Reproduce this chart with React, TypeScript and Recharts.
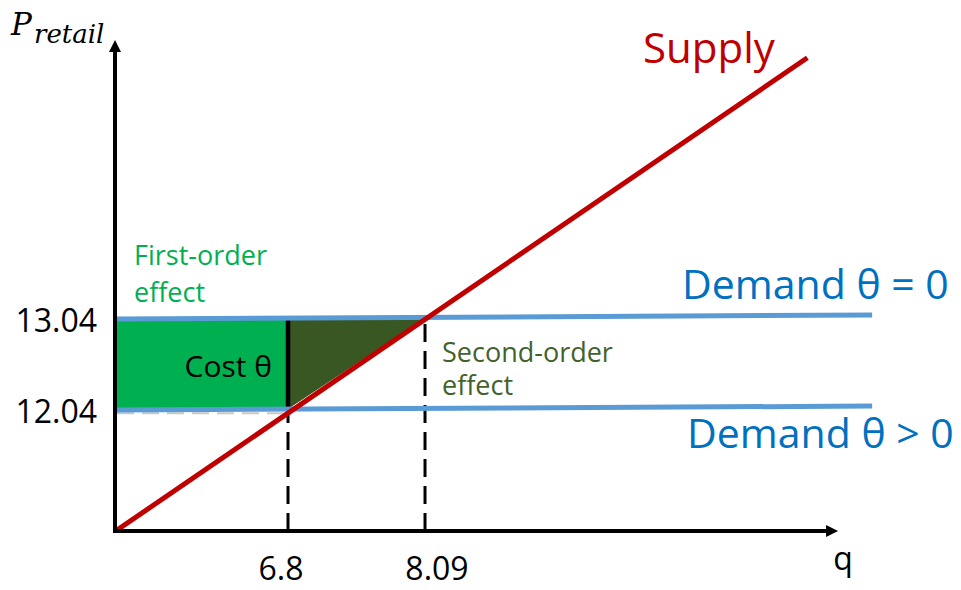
import { ComposedChart, Line, Area, XAxis, YAxis, ReferenceArea, ReferenceLine } from 'recharts';

// values
const qTicks = [6.8, 8.09];
const pTicks = [12.04, 13.04];
const supply = [
  { q: 5.19, p: 10.71 },
  { q: 11.69, p: 15.9 },
];
const demandZero = [
  { q: 5.19, p: 13.029 },
  { q: 12.3, p: 13.073 },
];
const demandPositive = [
  { q: 5.19, p: 12.029 },
  { q: 12.3, p: 12.073 },
];
const secondOrder = [
  { q: 6.8, band: [12.04, 13.04] },
  { q: 8.09, band: [13.04, 13.04] },
];

const X_DOMAIN = [5.171, 12.374];
const Y_DOMAIN = [10.7, 16.205];
const X_ARROW_END = 11.979;
const Y_ARROW_END = 16.095;

const FONT = '"Open Sans", sans-serif';
const BLUE = '#5B9BD5';
const BLUE_TEXT = '#0070C0';
const RED = '#C00000';
const GREEN = '#00B050';
const DARK_GREEN = '#385723';

const TICK_SHIFT: Record<string, number> = { '6.8': -7, '8.09': 12 };

function XTick({ x, payload }: any) {
  const shift = TICK_SHIFT[String(payload.value)] ?? 0;
  return (
    <text x={x + shift} y={580} textAnchor="middle" fontSize={32} fontFamily={FONT} fill="#000">
      {payload.value}
    </text>
  );
}

function YTick({ y, payload }: any) {
  return (
    <text x={97} y={y + 14} textAnchor="end" fontSize={32} fontFamily={FONT} fill="#000">
      {payload.value.toFixed(2)}
    </text>
  );
}

function ArrowAxis(props: any) {
  const { x1, y1, x2, y2 } = props;
  const vertical = Math.abs(x1 - x2) < 1;
  const head = vertical
    ? `${x2 - 6},${y2 + 12} ${x2 + 6},${y2 + 12} ${x2},${y2}`
    : `${x2 - 12},${y2 - 6} ${x2 - 12},${y2 + 6} ${x2},${y2}`;
  return (
    <g>
      <line
        x1={x1}
        y1={vertical ? y1 + 2 : y1}
        x2={vertical ? x2 : x2 - 10}
        y2={vertical ? y2 + 10 : y2}
        stroke="#000"
        strokeWidth={4}
      />
      <polygon points={head} fill="#000" />
    </g>
  );
}

export default function App() {
  return (
    <div style={{ position: 'absolute', left: 0, top: 0, width: 961, height: 590, background: '#fff' }}>
      <ComposedChart width={961} height={590} margin={{ top: 30, right: 81, bottom: 0, left: 0 }}>
        <XAxis
          type="number"
          dataKey="q"
          domain={X_DOMAIN}
          ticks={qTicks}
          axisLine={false}
          tickLine={false}
          height={59}
          tick={<XTick />}
          allowDataOverflow
        />
        <YAxis
          type="number"
          domain={Y_DOMAIN}
          ticks={pTicks}
          axisLine={false}
          tickLine={false}
          width={115}
          tick={<YTick />}
          allowDataOverflow
        />

        <ReferenceArea x1={5.19} x2={6.8} y1={12.04} y2={13.04} fill={GREEN} fillOpacity={1} stroke="none" />
        <Area
          data={secondOrder}
          dataKey="band"
          type="linear"
          fill={DARK_GREEN}
          fillOpacity={1}
          stroke="none"
          isAnimationActive={false}
          dot={false}
          activeDot={false}
        />

        <ReferenceLine
          segment={[{ x: 5.19, y: 11.995 }, { x: 6.8, y: 11.995 }]}
          stroke="#c8c8c8"
          strokeWidth={2}
          strokeDasharray="17 8"
        />
        <ReferenceLine
          segment={[{ x: 6.8, y: Y_DOMAIN[0] }, { x: 6.8, y: 12.04 }]}
          stroke="#000"
          strokeWidth={3}
          strokeDasharray="18 9"
        />
        <ReferenceLine
          segment={[{ x: 8.09, y: Y_DOMAIN[0] }, { x: 8.09, y: 13.04 }]}
          stroke="#000"
          strokeWidth={3}
          strokeDasharray="18 9"
        />
        <ReferenceLine
          segment={[{ x: 6.8, y: 12.04 }, { x: 6.8, y: 13.04 }]}
          stroke="#000"
          strokeWidth={4.5}
        />

        <Line data={demandZero} dataKey="p" type="linear" stroke={BLUE} strokeWidth={5} dot={false} activeDot={false} isAnimationActive={false} />
        <Line data={demandPositive} dataKey="p" type="linear" stroke={BLUE} strokeWidth={5} dot={false} activeDot={false} isAnimationActive={false} />
        <Line data={supply} dataKey="p" type="linear" stroke={RED} strokeWidth={5} dot={false} activeDot={false} isAnimationActive={false} />

        <ReferenceLine
          segment={[{ x: X_DOMAIN[0], y: Y_DOMAIN[0] }, { x: X_DOMAIN[0], y: Y_ARROW_END }]}
          shape={ArrowAxis}
        />
        <ReferenceLine
          segment={[{ x: X_DOMAIN[0], y: Y_DOMAIN[0] }, { x: X_ARROW_END, y: Y_DOMAIN[0] }]}
          shape={ArrowAxis}
        />
      </ComposedChart>

      <svg width={961} height={590} style={{ position: 'absolute', left: 0, top: 0, pointerEvents: 'none' }}>
        <text x={11} y={35} fontFamily='"DejaVu Serif", serif' fontStyle="italic" fontSize={31} fill="#000">P</text>
        <text x={34} y={43} fontFamily='"DejaVu Serif", serif' fontStyle="italic" fontSize={26} fill="#000">retail</text>

        <text x={643} y={63} fontFamily={FONT} fontSize={42} fill={RED}>Supply</text>
        <text x={682} y={299} fontFamily={FONT} fontSize={41} fill={BLUE_TEXT}>Demand θ = 0</text>
        <text x={687} y={448} fontFamily={FONT} fontSize={41} fill={BLUE_TEXT}>Demand θ &gt; 0</text>

        <text x={134} y={265} fontFamily={FONT} fontSize={27} fill={GREEN}>First-order</text>
        <text x={134} y={302} fontFamily={FONT} fontSize={27} fill={GREEN}>effect</text>
        <text x={442} y={362} fontFamily={FONT} fontSize={27} fill="#43622B">Second-order</text>
        <text x={442} y={395} fontFamily={FONT} fontSize={27} fill="#43622B">effect</text>
        <text x={272} y={377} textAnchor="end" fontFamily={FONT} fontSize={30} fill="#000">Cost θ</text>

        <text x={843} y={570} textAnchor="middle" fontFamily={FONT} fontSize={32} fill="#000">q</text>
      </svg>
    </div>
  );
}
